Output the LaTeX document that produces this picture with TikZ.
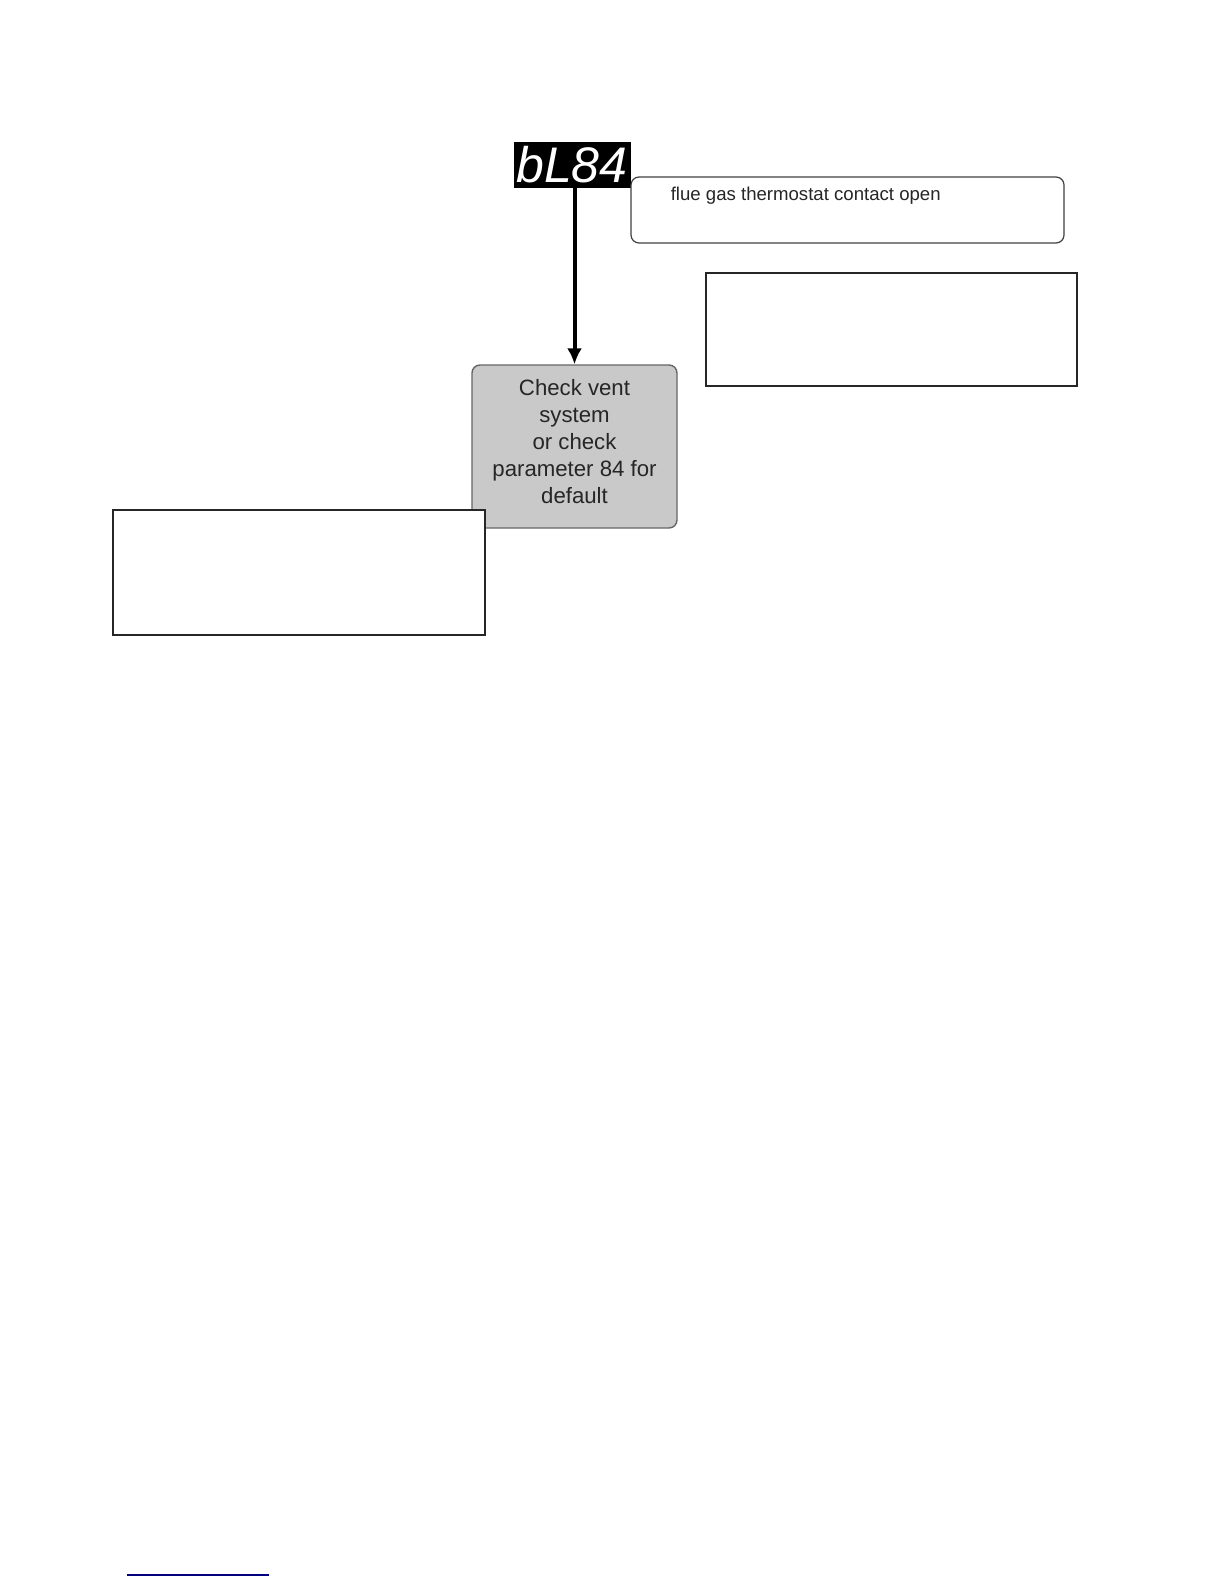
\documentclass[tikz,border=0pt]{standalone}
\usepackage{fontspec}
\setmainfont{Liberation Sans}
\usepackage{tikz}
\usetikzlibrary{shapes.geometric}
\usetikzlibrary{arrows.meta}
\pgfdeclarelayer{edgelayer}
\pgfdeclarelayer{nodelayer}
\pgfsetlayers{edgelayer,nodelayer,main}
\tikzstyle{display}=[rectangle,fill=black,text=white,inner sep=0pt,minimum width=58.5pt,minimum height=23pt,font=\fontsize{25}{25}\selectfont\itshape]
\tikzstyle{note}=[rectangle,rounded corners=4pt,draw=black!75,line width=0.6pt,fill=white,inner sep=0pt]
\tikzstyle{blank}=[rectangle,draw=black!85,line width=0.8pt,fill=white,inner sep=0pt]
\tikzstyle{action}=[rectangle,rounded corners=4pt,draw=black!60,line width=0.7pt,fill=black!21,inner sep=0pt]
\tikzstyle{action_text}=[align=center,inner sep=0pt,text=black!85,font=\fontsize{11.1}{13.4}\selectfont]
\tikzstyle{transition}=[-{Latex[length=8pt,width=7.5pt]},draw=black,line width=2pt]
\tikzstyle{link}=[draw=blue!50!black,line width=1pt]

\begin{document}
\begin{tikzpicture}[x=0.5pt,y=-0.5pt]
	\useasboundingbox (0,0) rectangle (1224,1584);
	\begin{pgfonlayer}{nodelayer}
		\node [style=display] (0) at (572, 165) {bL84};
		\node [style=note, minimum width=216.5pt, minimum height=33pt,
			label={[anchor=north west, inner sep=0pt, xshift=20pt, yshift=-5pt, text=black!85, font=\fontsize{9.3}{11}\selectfont]north west:flue gas thermostat contact open}] (1) at (847.5, 210) {};
		\node [style=blank, minimum width=185.5pt, minimum height=56.5pt] (2) at (891.5, 329.5) {};
		\node [style=action, minimum width=102.5pt, minimum height=81.5pt,
			label={[style=action_text, yshift=2.5pt]center:Check vent\\system\\or check\\parameter 84 for\\default}] (3) at (574.5, 446.5) {};
		\node [style=blank, minimum width=186pt, minimum height=62.5pt] (4) at (299, 572.5) {};
		\coordinate (5) at (127, 1575);
		\coordinate (6) at (269, 1575);
	\end{pgfonlayer}
	\begin{pgfonlayer}{edgelayer}
		\draw [style=transition] (3.north |- 0.south) to (3.north);
		\draw [style=link] (5) to (6);
	\end{pgfonlayer}
\end{tikzpicture}
\end{document}
